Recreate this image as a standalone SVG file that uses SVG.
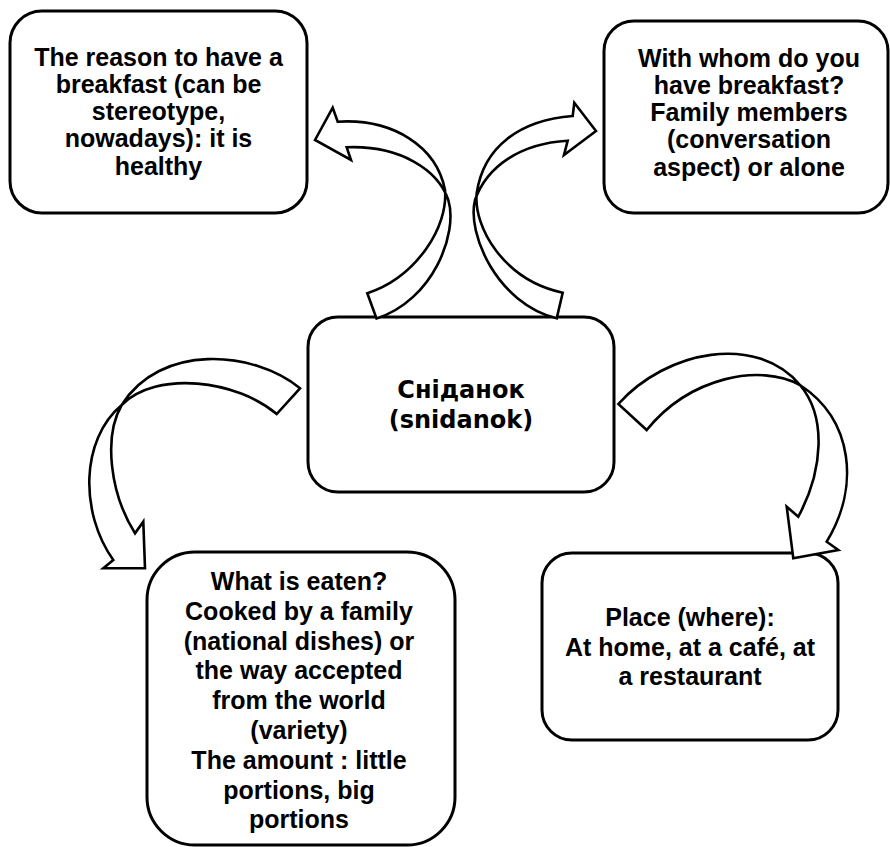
<svg xmlns="http://www.w3.org/2000/svg" width="890" height="847" viewBox="0 0 890 847">
<style>
.box{fill:#fff;stroke:#000;stroke-width:3}
.t{font-family:"Liberation Sans",Arial,sans-serif;font-weight:bold;font-size:25px;fill:#000;text-anchor:middle}
.c{font-family:"DejaVu Sans",sans-serif;font-weight:bold;font-size:24px;fill:#000;text-anchor:middle}
.arr{fill:#fff;stroke:#000;stroke-width:2.6;stroke-linejoin:miter}
</style>
<rect width="890" height="847" fill="#fff"/>
<g id="node-reason">
<rect class="box" x="10" y="11" width="297" height="202" rx="32"/>
<text class="t" x="158.5"><tspan x="158.5" y="65.7">The reason to have a</tspan><tspan x="158.5" y="92.9">breakfast (can be</tspan><tspan x="158.5" y="120.1">stereotype,</tspan><tspan x="158.5" y="147.3">nowadays): it is</tspan><tspan x="158.5" y="174.5">healthy</tspan></text>
</g>
<g id="node-whom">
<rect class="box" x="604" y="21" width="284" height="192" rx="30"/>
<text class="t" x="749"><tspan x="749" y="66.7">With whom do you</tspan><tspan x="749" y="93.9">have breakfast?</tspan><tspan x="749" y="121.1">Family members</tspan><tspan x="749" y="148.3">(conversation</tspan><tspan x="749" y="175.5">aspect) or alone</tspan></text>
</g>
<g id="node-center">
<rect class="box" x="308" y="317" width="306" height="175" rx="30"/>
<text class="c" x="461"><tspan x="461" y="397.7">Сніданок</tspan><tspan x="461" y="428">(snidanok)</tspan></text>
</g>
<g id="node-what">
<rect class="box" x="147" y="552" width="308" height="293" rx="48"/>
<text class="t" x="299"><tspan x="299" y="590">What is eaten?</tspan><tspan x="299" y="619.8">Cooked by a family</tspan><tspan x="299" y="649.6">(national dishes) or</tspan><tspan x="299" y="679.4">the way accepted</tspan><tspan x="299" y="709.2">from the world</tspan><tspan x="299" y="739">(variety)</tspan><tspan x="299" y="768.8">The amount : little</tspan><tspan x="299" y="798.6">portions, big</tspan><tspan x="299" y="828.4">portions</tspan></text>
</g>
<g id="node-place">
<rect class="box" x="542" y="553" width="296" height="187" rx="30"/>
<text class="t" x="690"><tspan x="690" y="626">Place (where):</tspan><tspan x="690" y="655.5">At home, at a café, at</tspan><tspan x="690" y="685">a restaurant</tspan></text>
</g>
<g id="connectors">
<path class="arr" d="M315,140 L332.7,107.7 L337.7,121.7 C393.3,118.3 436.7,146.7 445,190 C448.3,226.7 416.7,276.7 367.3,293.3 L376.5,318.5 C433.3,300 458.3,233.3 448.3,200 C438.3,170 400,145 346.7,147.3 L351,160 Z"/>
<path class="arr" d="M596,131 L574.3,102.7 L572.7,116 C520,120 483.3,146.7 476.7,193.3 C473.3,226.7 503.3,280 562.7,292.7 L556.7,318.3 C496.7,303.3 466.7,233.3 475,200 C486.7,166.7 520,143.3 567.7,140.7 L564,155 Z"/>
<path class="arr" d="M300,388.3 C253.3,350 160,343.3 121.7,405 C103.3,436.7 110,493.3 135,533.3 L143.3,521.7 L145,568.3 L103.3,568.3 L113.3,560 C80,513.3 80,440 121.7,405 C156.7,370 236.7,380 276.7,414 Z"/>
<path class="arr" d="M618.3,404 C666.7,350 756.7,333.3 800,385 C826.7,416.7 823.3,470 798.3,516.7 L786.7,506.7 L793.3,558.3 L838.3,550 L826.7,541.7 C860,486.7 853.3,420 800,385 C760,363.3 690,376.7 646.7,430 Z"/>
</g>
</svg>
